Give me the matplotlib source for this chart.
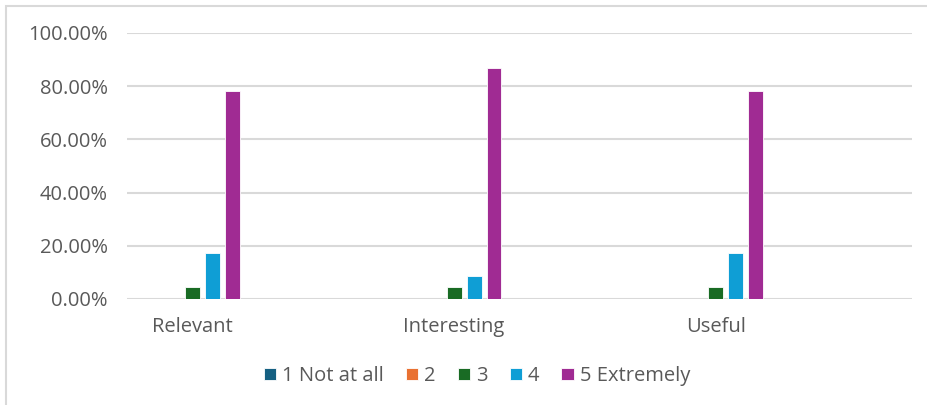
import matplotlib.pyplot as plt
from matplotlib.patches import Rectangle
import numpy as np

# data
categories = ["Relevant", "Interesting", "Useful"]
series_names = ["1 Not at all", "2", "3", "4", "5 Extremely"]
values = [
    [0.0, 0.0, 0.0],
    [0.0, 0.0, 0.0],
    [4.35, 4.35, 4.35],
    [17.39, 8.70, 17.39],
    [78.26, 86.96, 78.26],
]
colors = ["#156082", "#E97132", "#196B24", "#0F9ED5", "#A02B93"]

plt.rcParams['font.family'] = ['Open Sans', 'DejaVu Sans']
text_col = "#595959"

fig = plt.figure(figsize=(9.28, 4.05), dpi=100)
ax = fig.add_axes([127 / 928, 1 - 299 / 405, (912 - 127) / 928, (299 - 33) / 405])

x = np.arange(len(categories))
w = 0.057
step = 0.0763
for i, (name, vals) in enumerate(zip(series_names, values)):
    ax.bar(x + (i - 2) * step, vals, width=w, color=colors[i], label=name,
           edgecolor="white", linewidth=0.6, zorder=3)

ax.set_xlim(-0.25, 2.75)
ax.set_ylim(0, 100)
ax.set_yticks(np.arange(0, 101, 20))
ax.set_yticklabels([f"{v:.2f}%" for v in np.arange(0, 101, 20)])
ax.set_xticks(x)
ax.set_xticklabels(categories)
ax.grid(axis="y", color="#D9D9D9", linewidth=1.5, zorder=0)
for s in ax.spines.values():
    s.set_visible(False)
ax.tick_params(axis="both", length=0, labelsize=14.5, colors=text_col)
ax.tick_params(axis="y", pad=14)
ax.tick_params(axis="x", pad=13)

leg = fig.legend(loc="center", bbox_to_anchor=(477 / 928, 1 - 376 / 405), ncol=5,
                 frameon=False, fontsize=14.5, handlelength=0.6, handleheight=0.6,
                 handletextpad=0.3, columnspacing=1.1)
for t in leg.get_texts():
    t.set_color(text_col)

# outer chart border
fig.patches.append(Rectangle((6 / 928, -0.1), 2, 1.1 - 6 / 405, transform=fig.transFigure,
                             fill=False, edgecolor="#D9D9D9", linewidth=1.5))

fig.savefig("out.png", dpi=100)
